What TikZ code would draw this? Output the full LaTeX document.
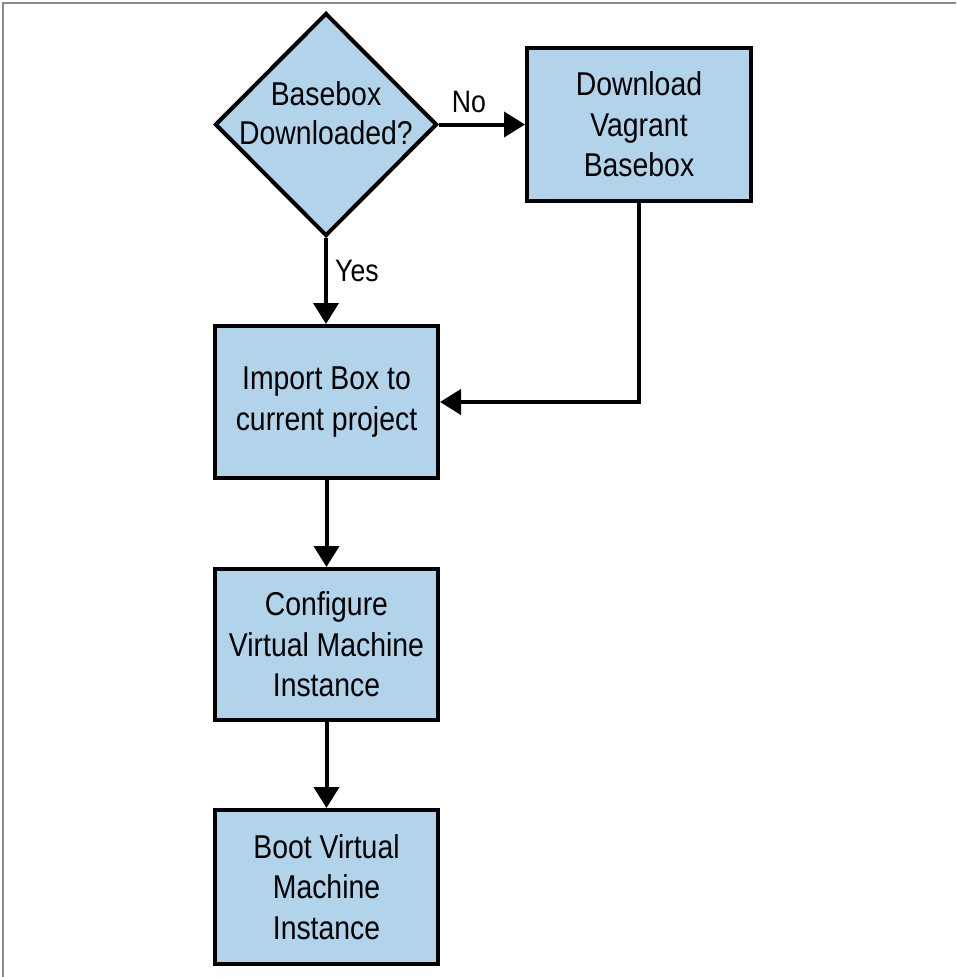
\documentclass[tikz,border=0pt]{standalone}
\usepackage{fontspec}
\setmainfont{Liberation Sans}[FakeStretch=0.86]
\usetikzlibrary{shapes.geometric,arrows.meta}
\definecolor{boxblue}{HTML}{B2D4EA}
\definecolor{framegray}{HTML}{8A8A8A}
\tikzset{
  flowbox/.style={draw=black, line width=4pt, fill=boxblue, inner sep=0pt,
    minimum width=223pt, align=center, font=\fontsize{33}{40.5}\selectfont},
  decision/.style={draw=black, line width=4pt, fill=boxblue, shape=diamond,
    inner sep=0pt, minimum width=222pt, minimum height=223pt},
  flowtext/.style={align=center, inner sep=0pt, font=\fontsize{33}{39}\selectfont},
  edgelabel/.style={inner sep=0pt, font=\fontsize{31}{34}\selectfont},
  flow/.style={line width=4pt, -{Triangle[length=21pt,width=25pt]}}
}
\begin{document}
\begin{tikzpicture}[x=1pt,y=-1pt]
\useasboundingbox (0,0) rectangle (956,977);
% thin frame along the left and top edges
\draw[framegray, line width=1.6pt] (3,977) -- (3,3) -- (956,3);

% decision
\node[decision] (dec) at (326,124.5) {};
\node[flowtext] (dectext) at (326,113) {Basebox\\Downloaded?};

% process boxes
\node[flowbox, minimum width=224pt, minimum height=153pt] (dl) at (639,124.5)
  {Download\\Vagrant\\Basebox};
\node[flowbox, minimum height=152pt] (imp) at (326.5,402)
  {Import Box to\\current project};
\node[flowbox, minimum height=151pt] (cfg) at (326.5,644.5)
  {Configure\\Virtual Machine\\Instance};
\node[flowbox, minimum height=154pt] (boot) at (326.5,887)
  {Boot Virtual\\Machine\\Instance};

% connectors
\draw[flow] (dec.east) -- (dl.west);
\draw[flow] (dec.south) -- (imp.north -| dec.south);
\draw[flow] (dl.south) |- (imp.east);
\draw[flow] (imp.south -| cfg.north) -- (cfg.north);
\draw[flow] (cfg.south) -- (boot.north);

% edge labels
\node[edgelabel] (nolabel) at (469,102) {No};
\node[edgelabel, anchor=west] (yeslabel) at (335,271) {Yes};
\end{tikzpicture}
\end{document}
